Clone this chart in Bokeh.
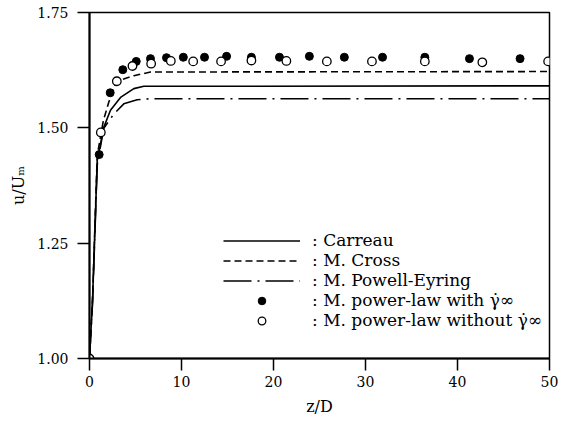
from bokeh.plotting import figure
from bokeh.models import Range1d, FixedTicker, Legend, LegendItem, CustomJSTickFormatter
from bokeh.embed import file_html
from bokeh.resources import INLINE

# ---- data ----
carreau_x = [0, 0.33, 0.84, 1.55, 2.28, 3.37, 4.82, 5.9, 50]
carreau_y = [1.0, 1.126, 1.429, 1.501, 1.538, 1.566, 1.585, 1.590, 1.591]

cross_x = [0, 0.33, 0.84, 1.5, 2.1, 2.47, 2.83, 3.6, 4.82, 6.63, 50]
cross_y = [1.0, 1.13, 1.44, 1.515, 1.556, 1.574, 1.595, 1.605, 1.613, 1.621, 1.622]

pe_x = [0, 0.33, 0.84, 1.55, 2.64, 3.73, 5.18, 6.63, 50]
pe_y = [1.0, 1.12, 1.42, 1.499, 1.530, 1.552, 1.561, 1.563, 1.563]

with_x = [0, 1.05, 2.25, 3.62, 5.08, 6.63, 8.37, 10.2, 12.5, 14.9, 17.6, 20.65,
          23.9, 27.7, 31.85, 36.45, 41.3, 46.8]
with_y = [1.0, 1.442, 1.576, 1.626, 1.644, 1.650, 1.652, 1.653, 1.653, 1.655, 1.653,
          1.653, 1.655, 1.653, 1.653, 1.653, 1.650, 1.650]

without_x = [0, 1.23, 2.97, 4.67, 6.7, 8.84, 11.27, 14.3, 17.6, 21.4, 25.8, 30.7,
             36.45, 42.7, 49.85]
without_y = [1.0, 1.490, 1.601, 1.634, 1.639, 1.645, 1.644, 1.644, 1.646, 1.645,
             1.644, 1.644, 1.644, 1.642, 1.644]

x_ticks = [0, 10, 20, 30, 40, 50]
y_ticks = [1.00, 1.25, 1.50, 1.75]

labels = [": Carreau", ": M. Cross", ": M. Powell-Eyring",
          ": M. power-law with \u03b3\u0307\u221e", ": M. power-law without \u03b3\u0307\u221e"]

SERIF = "DejaVu Serif"

p = figure(width=570, height=425, output_backend="svg", toolbar_location=None,
           x_range=Range1d(0, 50), y_range=Range1d(1.0, 1.75),
           min_border_left=89, min_border_right=21, min_border_top=12, min_border_bottom=67)
p.grid.visible = False
p.outline_line_color = "black"
p.outline_line_width = 1.5
p.background_fill_color = "white"
p.border_fill_color = "white"

for ax in (p.xaxis[0], p.yaxis[0]):
    ax.axis_line_width = 2
    ax.axis_line_color = "black"
    ax.major_tick_line_width = 1.5
    ax.major_tick_line_color = "black"
    ax.minor_tick_line_color = None
    ax.major_tick_in = 0
    ax.major_tick_out = 12
    ax.major_label_text_font = SERIF
    ax.major_label_text_font_size = "14px"
    ax.major_label_text_color = "black"
    ax.axis_label_text_font = SERIF
    ax.axis_label_text_font_size = "16px"
    ax.axis_label_text_font_style = "normal"
    ax.axis_label_text_color = "black"

p.xaxis[0].ticker = FixedTicker(ticks=x_ticks)
p.yaxis[0].ticker = FixedTicker(ticks=y_ticks)
p.yaxis[0].formatter = CustomJSTickFormatter(code="return tick.toFixed(2);")
p.xaxis[0].major_label_standoff = 5
p.yaxis[0].major_label_standoff = 9
p.xaxis[0].axis_label = "z/D"
p.yaxis[0].axis_label = "u/U\u2098"
p.xaxis[0].axis_label_standoff = 7
p.yaxis[0].axis_label_standoff = 6

r1 = p.line(carreau_x, carreau_y, line_color="black", line_width=1.6)
r2 = p.line(cross_x, cross_y, line_color="black", line_width=1.6, line_dash="7 4")
r3 = p.line(pe_x, pe_y, line_color="black", line_width=1.6, line_dash="28 6 2 6")
r4 = p.scatter(with_x, with_y, marker="circle", size=8, fill_color="black", line_color="black")
r5 = p.scatter(without_x, without_y, marker="circle", size=8.5, fill_color="white",
               line_color="black", line_width=1.3)

legend = Legend(items=[LegendItem(label=labels[0], renderers=[r1]),
                       LegendItem(label=labels[1], renderers=[r2]),
                       LegendItem(label=labels[2], renderers=[r3]),
                       LegendItem(label=labels[3], renderers=[r4]),
                       LegendItem(label=labels[4], renderers=[r5])],
                location=(134, 28))
legend.border_line_color = None
legend.background_fill_alpha = 0
legend.padding = 0
legend.margin = 0
legend.spacing = 0
legend.glyph_width = 77
legend.glyph_height = 19
legend.label_height = 19
legend.label_standoff = 12
legend.label_text_font = SERIF
legend.label_text_font_size = "17px"
legend.label_text_color = "black"
p.add_layout(legend)

open("out.html", "w").write(file_html(p, INLINE))
